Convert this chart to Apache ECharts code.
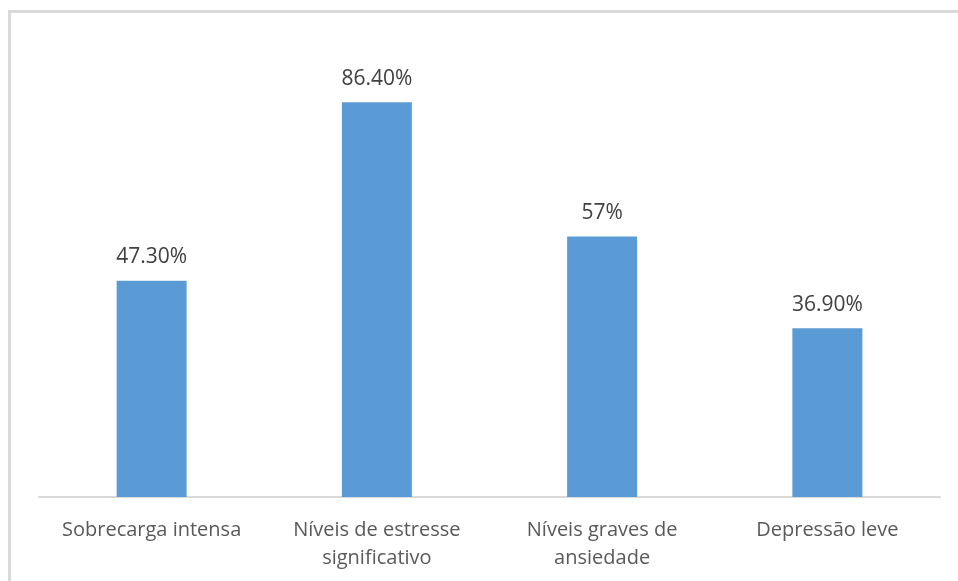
<!DOCTYPE html>
<html>
	<head>
		<title>Bar chart</title>
		<meta http-equiv="content-type" content="text/html; charset=UTF-8">
		<script src="https://cdn.jsdelivr.net/npm/echarts@6/dist/echarts.min.js"></script>
		<style>
			html {height: 100%; width: 100%;}
			body {height: 100%; width: 100%; margin:0px; background:#fff; overflow:hidden;}
		</style>
		<script>
			const categories = ['Sobrecarga intensa', 'Níveis de estresse\nsignificativo', 'Níveis graves de\nansiedade', 'Depressão leve'];
			const values = [47.3, 86.4, 57, 36.9];
			const valueLabels = ['47.30%', '86.40%', '57%', '36.90%'];

			let chart;
			function onload() {
				chart = echarts.init(document.getElementById('container'));
				let option = {
					animation: false,
					textStyle: { fontFamily: 'Open Sans' },
					graphic: [{
						type: 'rect',
						shape: { x: 9.5, y: 11.5, width: 1200, height: 1200 },
						style: { fill: 'none', stroke: '#d9d9d9', lineWidth: 3 },
						silent: true
					}],
					grid: { left: 39, right: 18, top: 40, bottom: 84 },
					xAxis: {
						type: 'category',
						data: categories,
						axisLine: { lineStyle: { color: '#d9d9d9', width: 2 } },
						axisTick: { show: false },
						axisLabel: { color: '#595959', fontSize: 20, margin: 19, lineHeight: 28, interval: 0 }
					},
					yAxis: {
						type: 'value',
						min: 0,
						max: 100,
						show: false,
						splitLine: { show: false }
					},
					series: [{
						type: 'bar',
						data: values,
						barWidth: 70,
						itemStyle: { color: '#5b9bd5' },
						label: {
							show: true,
							position: 'top',
							distance: 13,
							color: '#404040',
							fontSize: 21,
							formatter: function (p) { return valueLabels[p.dataIndex]; }
						}
					}]
				};
				chart.setOption(option);
			}
		</script>
	</head>
	<body onload="onload()">
		<div id="container" style="width:958px;height:581px;"></div>
	</body>
</html>
